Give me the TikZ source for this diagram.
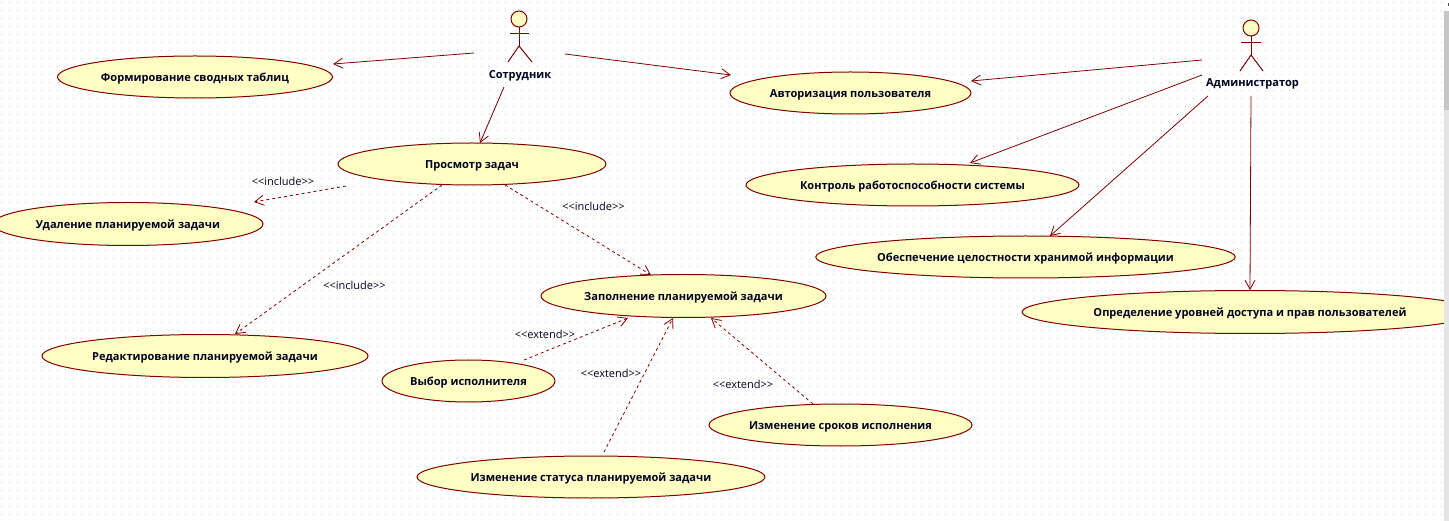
\documentclass[tikz,border=0pt]{standalone}
\usepackage{fontspec}
\setmainfont{Open Sans}
\usetikzlibrary{arrows.meta,shapes.geometric}
\definecolor{umlline}{HTML}{800000}
\definecolor{umlfill}{HTML}{FFFFC4}
\definecolor{griddot}{HTML}{C8C8C8}
\definecolor{umltext}{HTML}{000020}
\tikzset{
  uc/.style={ellipse,draw=umlline,fill=umlfill,line width=1pt,inner sep=0pt,text=umltext,
    font=\fontsize{11.05}{12}\selectfont\bfseries,text height=11pt,text depth=2pt,minimum width=#1},
  uc/.default=270pt,
  assoc/.style={draw=umlline,line width=0.8pt,-{Straight Barb[length=9pt,width=10pt,line width=0.8pt]}},
  dep/.style={assoc,dash pattern=on 3pt off 3pt},
  stick/.style={draw=umlline,line width=1pt},
  head/.style={circle,draw=umlline,fill=umlfill,line width=1pt,minimum size=16pt,inner sep=0pt},
  actorname/.style={font=\fontsize{11.05}{12}\selectfont\bfseries,text=umltext,inner sep=0pt},
  stereo/.style={font=\fontsize{11}{12}\selectfont,text=umltext,inner sep=0pt},
}
\begin{document}
\begin{tikzpicture}[x=1pt,y=-1pt]
\useasboundingbox (0,0) rectangle (1449,521);
\fill[white] (0,0) rectangle (1449,521);
% dotted grid
\foreach \yy in {2,10,...,520}
  \draw[griddot,line width=1pt,dash pattern=on 1pt off 7pt] (1,\yy+0.5) -- (1444,\yy+0.5);

% use cases
\node[uc=275pt,minimum height=42pt] (tables) at (195,77) {Формирование сводных таблиц};
\node[uc=241pt,minimum height=42pt] (auth) at (850.5,93) {Авторизация пользователя};
\node[uc=333pt,minimum height=42pt] (control) at (912.5,185) {Контроль работоспособности системы};
\node[uc=417pt,minimum height=42pt] (integrity) at (1025.5,257) {Обеспечение целостности хранимой информации};
\node[uc=456pt,minimum height=43pt] (access) at (1250,312) {Определение уровней доступа и прав пользователей};
\node[uc=268pt,minimum height=42pt] (view) at (472,164) {Просмотр задач};
\node[uc=270pt,minimum height=43pt] (del) at (128,224) {Удаление планируемой задачи};
\node[uc=285pt,minimum height=43pt] (fill) at (683.5,296) {Заполнение планируемой задачи};
\node[uc=326pt,minimum height=43pt] (edit) at (205,356) {Редактирование планируемой задачи};
\node[uc=173pt,minimum height=42pt] (pick) at (468.5,381) {Выбор исполнителя};
\node[uc=263pt,minimum height=42pt] (dates) at (840.5,425) {Изменение сроков исполнения};
\node[uc=348pt,minimum height=42pt] (status) at (591,477) {Изменение статуса планируемой задачи};

% actor: employee
\node[head] (empHead) at (519,19) {};
\coordinate (empHip) at (519,46);
\draw[stick] (empHead.south) -- (empHip);
\draw[stick] ([shift={(-9,15)}]empHead.center) -- ([shift={(10,15)}]empHead.center);
\draw[stick] (empHip) -- ([shift={(-11,16)}]empHip);
\draw[stick] (empHip) -- ([shift={(13,16)}]empHip);
\node[actorname] (empName) at (520,75.5) {Сотрудник};

% actor: administrator
\node[head] (admHead) at (1251,28) {};
\coordinate (admHip) at (1251,55);
\draw[stick] (admHead.south) -- (admHip);
\draw[stick] ([shift={(-10,15)}]admHead.center) -- ([shift={(10,15)}]admHead.center);
\draw[stick] (admHip) -- ([shift={(-11,16)}]admHip);
\draw[stick] (admHip) -- ([shift={(12,16)}]admHip);
\node[actorname] (admName) at (1252.5,83.5) {Администратор};

% associations
\draw[assoc] ([shift={(-45,34)}]empHead.center) -- ([shift={(138,-13)}]tables.center);
\draw[assoc] ([shift={(46,35)}]empHead.center) -- ([shift={(-119.5,-18)}]auth.center);
\draw[assoc] ([shift={(-15,68)}]empHead.center) -- ([shift={(8,-21)}]view.center);
\draw[assoc] ([shift={(-49,32)}]admHead.center) -- ([shift={(120.5,-12)}]auth.center);
\draw[assoc] ([shift={(-49,47)}]admHead.center) -- ([shift={(57.5,-22)}]control.center);
\draw[assoc] ([shift={(-43,68)}]admHead.center) -- ([shift={(24.5,-21)}]integrity.center);
\draw[assoc] ([shift={(0,68)}]admHead.center) -- ([shift={(0,-22)}]access.center);

% dependencies
\draw[dep] ([shift={(-126,22)}]view.center) -- ([shift={(126,-22)}]del.center);
\draw[dep] ([shift={(33,21)}]view.center) -- ([shift={(-32.5,-21)}]fill.center);
\draw[dep] ([shift={(-30,21)}]view.center) -- ([shift={(30,-22)}]edit.center);
\draw[dep] ([shift={(55.5,-21)}]pick.center) -- ([shift={(-55.5,22)}]fill.center);
\draw[dep] ([shift={(13,-25)}]status.center) -- ([shift={(-10.5,22)}]fill.center);
\draw[dep] ([shift={(-27.5,-21)}]dates.center) -- ([shift={(27.5,22)}]fill.center);

% stereotypes
\node[stereo] (s1) at (283,181.5) {<{}<include>{}>};
\node[stereo] (s2) at (593.5,206.5) {<{}<include>{}>};
\node[stereo] (s3) at (354.5,285.5) {<{}<include>{}>};
\node[stereo] (s4) at (545,334.5) {<{}<extend>{}>};
\node[stereo] (s5) at (611,373.5) {<{}<extend>{}>};
\node[stereo] (s6) at (743,384.5) {<{}<extend>{}>};

% window scrollbar
\fill[black!10!white] (1444,0) rectangle (1449,521);
\fill[white] (1444,0) rectangle (1449,11);
\fill[black!70] (1448,3) rectangle (1449,6);
\fill[black!22] (1444,11) rectangle (1449,110);
\end{tikzpicture}
\end{document}
